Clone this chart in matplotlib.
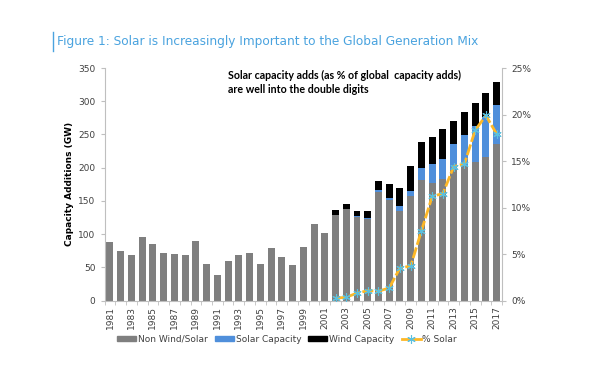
import matplotlib
matplotlib.use('Agg')
import matplotlib.pyplot as plt
import matplotlib.patches as mpatches
from matplotlib.lines import Line2D
from matplotlib.ticker import FuncFormatter, MultipleLocator
import numpy as np

years = list(range(1981, 2018))
non_wind_solar = [88, 75, 69, 95, 85, 71, 70, 68, 90, 55, 38, 60, 69, 71, 55, 79, 66, 54, 80,
                  115, 102, 129, 138, 126, 122, 164, 152, 135, 157, 181, 177, 183, 196, 203, 209, 216, 235]
solar = [0] * 21 + [0, 0, 1, 1.5, 2, 2, 8, 8, 19, 28, 30, 39, 46, 54, 60, 59]
wind = [0] * 21 + [7, 8, 8, 11.5, 14, 21, 26, 38, 39, 41, 45, 35, 35, 35, 37, 35]
pct_years = list(range(2002, 2018))
pct_solar = [0.25, 0.35, 0.8, 1.05, 1.0, 1.35, 3.5, 3.7, 7.5, 11.2, 11.5, 14.4, 14.7, 18.3, 19.9, 17.9]

gray = '#7f7f7f'
blue = '#4f8fdb'
gold = '#fdb827'
teal = '#5bc0de'
axis_col = '#bfbfbf'
text_col = '#404040'

fig = plt.figure(figsize=(5.96, 3.86), dpi=100)
ax = fig.add_axes([0.1755, 0.2215, 0.8423 - 0.1755, 0.8238 - 0.2215])

x = np.arange(len(years))
nws = np.array(non_wind_solar)
sol = np.array(solar)
wnd = np.array(wind)
w = 0.65
ax.bar(x, nws, width=w, color=gray, zorder=2)
ax.bar(x, sol, width=w, bottom=nws, color=blue, zorder=2)
ax.bar(x, wnd, width=w, bottom=nws + sol, color='black', zorder=2)

ax.set_xlim(-0.5, len(years) - 0.5)
ax.set_ylim(0, 350)
ax.yaxis.set_major_locator(MultipleLocator(50))
ax.set_xticks(x[::2])
ax.set_xticklabels([str(y) for y in years[::2]], rotation=90)
ax.set_xticks(np.arange(-0.5, len(years)), minor=True)
ax.tick_params(axis='x', which='major', length=0, pad=4, labelsize=6.5, labelcolor=text_col)
ax.tick_params(axis='x', which='minor', length=3, color=axis_col)
ax.tick_params(axis='y', length=3, color=axis_col, labelsize=6.5, labelcolor=text_col)
ax.set_ylabel('Capacity Additions (GW)', fontsize=6.5, fontweight='bold', color='black', labelpad=3)

for s in ['top', 'right']:
    ax.spines[s].set_visible(False)
ax.spines['left'].set_color(axis_col)
ax.spines['bottom'].set_color(axis_col)

ax2 = ax.twinx()
xp = np.array([years.index(y) for y in pct_years])
ax2.plot(xp, np.array(pct_solar) / 100, color=gold, lw=2, ls=(0, (4, 1)), zorder=3)
ax2.plot(xp, np.array(pct_solar) / 100, ls='none', marker=(6, 2, 0), ms=6, mew=0.8, color=teal, zorder=4)
ax2.set_ylim(0, 0.25)
ax2.yaxis.set_major_locator(MultipleLocator(0.05))
ax2.yaxis.set_major_formatter(FuncFormatter(lambda v, p: f'{v * 100:.0f}%'))
ax2.tick_params(axis='y', length=3, color=axis_col, labelsize=6.5, labelcolor=text_col)
for s in ['top', 'left', 'bottom']:
    ax2.spines[s].set_visible(False)
ax2.spines['right'].set_color(axis_col)

ax.text(0.31, 0.99, 'Solar capacity adds (as % of global  capacity adds)\nare well into the double digits',
        transform=ax.transAxes, ha='left', va='top', fontsize=7.7, fontweight='bold',
        family='Lato', linespacing=1.3)

# title with the little blue bar in front of it
title_col = '#4aa3df'
fig.add_artist(Line2D([53 / 596, 53 / 596], [1 - 32 / 386, 1 - 51 / 386], color=title_col, lw=1))
fig.text(57 / 596, 1 - 42 / 386, 'Figure 1: Solar is Increasingly Important to the Global Generation Mix',
         color=title_col, fontsize=8.7, va='center', ha='left')

handles = [mpatches.Patch(color=gray, label='Non Wind/Solar'),
           mpatches.Patch(color=blue, label='Solar Capacity'),
           mpatches.Patch(color='black', label='Wind Capacity'),
           Line2D([], [], color=gold, lw=2, marker=(6, 2, 0), ms=6, mew=0.8, mec=teal, label='% Solar')]
fig.legend(handles=handles, loc='center', bbox_to_anchor=(287 / 596, 1 - 339 / 386), ncol=4,
           frameon=False, fontsize=6.5, handlelength=2.1, handleheight=0.5, columnspacing=0.8,
           handletextpad=0.2, labelcolor=text_col)

fig.savefig('out.png', dpi=100)
